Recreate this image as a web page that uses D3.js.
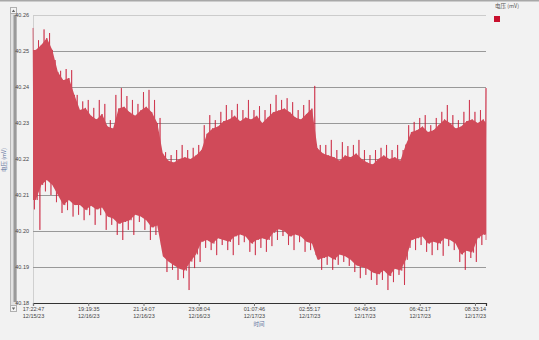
<!DOCTYPE html>
<html><head><meta charset="utf-8">
<script src="https://cdn.jsdelivr.net/npm/d3@7"></script>
<style>html,body{margin:0;padding:0;background:#f2f2f2;}svg{display:block;}</style>
</head><body>
<svg id="c" width="539" height="340"></svg>
<script>
const seriesName = "电压 (mV)";
const xTitle = "时间";
const yTicks = [40.18, 40.19, 40.20, 40.21, 40.22, 40.23, 40.24, 40.25, 40.26];
const tickTimes = ["17:22:47","19:19:35","21:14:07","23:08:04","01:07:46","02:55:17","04:49:53","06:42:17","08:33:14"];
const tickDates = ["12/15/23","12/16/23","12/16/23","12/16/23","12/17/23","12/17/23","12/17/23","12/17/23","12/17/23"];
const tickIndex = [0,10,20,30,40,50,60,70,80];
// peak readings (upper swing) per sample
const upper = [40.2564,40.2530,40.2560,40.2550,40.2475,40.2445,40.2450,40.2447,40.2378,40.2360,
40.2364,40.2342,40.2364,40.2353,40.2308,40.2378,40.2397,40.2375,40.2364,40.2353,
40.2386,40.2392,40.2364,40.2314,40.2219,40.2211,40.2225,40.2239,40.2225,40.2231,
40.2239,40.2294,40.2322,40.2308,40.2331,40.2350,40.2336,40.2353,40.2336,40.2364,
40.2336,40.2347,40.2336,40.2353,40.2378,40.2364,40.2369,40.2358,40.2336,40.2350,
40.2364,40.2403,40.2239,40.2239,40.2253,40.2225,40.2247,40.2236,40.2239,40.2253,
40.2225,40.2211,40.2225,40.2231,40.2239,40.2225,40.2239,40.2225,40.2294,40.2303,
40.2314,40.2322,40.2294,40.2314,40.2331,40.2350,40.2322,40.2308,40.2331,40.2364,
40.2331,40.2336,40.2397];
// trough readings (lower swing) per sample
const lower = [40.2060,40.2003,40.2110,40.2100,40.2080,40.2050,40.2058,40.2040,40.2045,40.2030,
40.2044,40.2017,40.2044,40.2003,40.2017,40.1989,40.1975,40.2003,40.1989,40.2025,
40.2003,40.1975,40.1989,40.1961,40.1886,40.1892,40.1864,40.1869,40.1836,40.1897,
40.1914,40.1953,40.1947,40.1933,40.1961,40.1947,40.1933,40.1961,40.1969,40.1942,
40.1933,40.1953,40.1942,40.1958,40.1975,40.1986,40.1961,40.1947,40.1969,40.1942,
40.1947,40.1933,40.1892,40.1906,40.1892,40.1906,40.1914,40.1903,40.1886,40.1869,
40.1878,40.1864,40.1850,40.1864,40.1836,40.1858,40.1878,40.1850,40.1953,40.1947,
40.1961,40.1942,40.1933,40.1947,40.1931,40.1958,40.1947,40.1914,40.1892,40.1925,
40.1914,40.1961,40.1975];
// intermediate upper swings (between samples)
const upperMid = [40.2503,40.2517,40.2536,40.2503,40.2442,40.2419,40.2425,40.2378,40.2336,40.2342,
40.2320,40.2310,40.2325,40.2290,40.2285,40.2340,40.2345,40.2330,40.2320,40.2335,
40.2345,40.2330,40.2300,40.2215,40.2195,40.2190,40.2200,40.2205,40.2200,40.2210,
40.2225,40.2270,40.2285,40.2290,40.2305,40.2310,40.2320,40.2305,40.2315,40.2310,
40.2320,40.2300,40.2315,40.2330,40.2335,40.2340,40.2330,40.2315,40.2310,40.2325,
40.2340,40.2230,40.2215,40.2210,40.2205,40.2195,40.2210,40.2205,40.2215,40.2200,
40.2190,40.2185,40.2200,40.2210,40.2200,40.2205,40.2195,40.2240,40.2275,40.2280,
40.2290,40.2275,40.2280,40.2295,40.2310,40.2300,40.2285,40.2290,40.2305,40.2310,
40.2300,40.2310,40.2300];
// intermediate lower swings (between samples)
const lowerMid = [40.2086,40.2128,40.2142,40.2128,40.2100,40.2072,40.2086,40.2072,40.2072,40.2058,
40.2070,40.2060,40.2065,40.2040,40.2035,40.2020,40.2025,40.2030,40.2045,40.2040,
40.2030,40.2010,40.2015,40.1930,40.1915,40.1905,40.1895,40.1890,40.1915,40.1935,
40.1970,40.1975,40.1965,40.1980,40.1975,40.1970,40.1985,40.1990,40.1985,40.1965,
40.1975,40.1980,40.1975,40.1995,40.2005,40.2000,40.1985,40.1990,40.1985,40.1970,
40.1965,40.1920,40.1925,40.1930,40.1920,40.1935,40.1930,40.1920,40.1905,40.1900,
40.1895,40.1885,40.1880,40.1890,40.1875,40.1895,40.1890,40.1920,40.1975,40.1980,
40.1985,40.1965,40.1970,40.1965,40.1980,40.1975,40.1965,40.1935,40.1945,40.1940,
40.1980,40.1990,40.1990];

const svg = d3.select("#c");
const font = "'Liberation Sans', Arial, sans-serif";
const L = 33, R = 486, T = 15, B = 303;
const n = upper.length;
const x = d3.scaleLinear().domain([0, n - 1]).range([L, R]);
const y = d3.scaleLinear().domain([40.18, 40.26]).range([B, T]);

svg.append("rect").attr("width",539).attr("height",340).attr("fill","#f2f2f2");
svg.append("line").attr("x1",0).attr("x2",539).attr("y1",0.5).attr("y2",0.5).attr("stroke","#a8a8a8").attr("stroke-width",2);

// scrollbar
const sb = svg.append("g");
sb.append("rect").attr("x",10.5).attr("y",7.5).attr("width",6).attr("height",304).attr("fill","#e2e2e2").attr("stroke","#b8b8b8");
sb.append("rect").attr("x",13.5).attr("y",15).attr("width",2.5).attr("height",287).attr("fill","#9a9a9a");
sb.append("rect").attr("x",10.5).attr("y",7.5).attr("width",6).attr("height",6).attr("fill","#f4f4f4").attr("stroke","#b0b0b0");
sb.append("rect").attr("x",10.5).attr("y",305.5).attr("width",6).attr("height",6).attr("fill","#f4f4f4").attr("stroke","#b0b0b0");
sb.append("path").attr("d","M11.8,12 L13.5,9.5 L15.2,12Z").attr("fill","#666");
sb.append("path").attr("d","M11.8,307.5 L13.5,310 L15.2,307.5Z").attr("fill","#666");

// grid
const yAxis = d3.axisLeft(y).tickValues(yTicks).tickSize(-(R - L)).tickPadding(4).tickFormat(d3.format(".2f"));
const gy = svg.append("g").attr("transform",`translate(${L},0)`).call(yAxis);
gy.select(".domain").attr("stroke","#d0d0d0");
gy.selectAll(".tick line").attr("stroke",d=> d===40.26 ? "#cccccc" : "#999999").attr("stroke-width",1);
gy.selectAll(".tick text").attr("font-family",font).attr("font-size",5.5).attr("fill","#444");

// oscillating trace (spikes)
const trace = [];
for (let i = 0; i < n; i++) {
  trace.push([i, upper[i]]);
  if (i < n - 1) {
    trace.push([i + 0.25, lower[i]]);
    trace.push([i + 0.5, upperMid[i]]);
    trace.push([i + 0.75, lowerMid[i]]);
  } else {
    trace.push([i, lower[i]]);
  }
}
svg.append("path").datum(trace)
  .attr("d", d3.line().x(d=>x(d[0])).y(d=>y(d[1])))
  .attr("fill","none").attr("stroke","#c8102e").attr("stroke-width",0.6);

// solid band of the dense signal, drawn over the trace
const band = [];
band.push({t:0, hi:upperMid[0], lo:lowerMid[0]});
for (let i = 0; i < n - 1; i++) band.push({t:i + 0.5, hi:upperMid[i], lo:lowerMid[i]});
band.push({t:n - 1, hi:upperMid[n - 1], lo:lowerMid[n - 1]});
svg.append("path").datum(band)
  .attr("d", d3.area().x(d=>x(d.t)).y0(d=>y(d.lo)).y1(d=>y(d.hi)))
  .attr("fill","#d04a59");

// x axis
const xAxis = d3.axisBottom(x).tickValues(tickIndex).tickSize(3).tickFormat("");
const gx = svg.append("g").attr("transform",`translate(0,${B})`).call(xAxis);
gx.select(".domain").attr("stroke","#333").attr("stroke-width",1.2);
gx.selectAll(".tick line").attr("stroke","#777");
gx.selectAll(".tick").each(function(d,i){
  const t = d3.select(this).append("text").attr("font-family",font).attr("font-size",5.5).attr("fill","#444").attr("text-anchor","middle");
  t.append("tspan").attr("x",0).attr("y",8).text(tickTimes[i]);
  t.append("tspan").attr("x",0).attr("y",14.5).text(tickDates[i]);
});

svg.append("text").attr("x",259).attr("y",326).attr("text-anchor","middle").attr("font-family","'Noto Sans CJK SC', sans-serif").attr("font-size",5.5).attr("fill","#5a6f9a").text(xTitle);
svg.append("text").attr("transform","translate(6,160) rotate(-90)").attr("text-anchor","middle").attr("font-family","'Noto Sans CJK SC', sans-serif").attr("font-size",5.5).attr("fill","#5a6f9a").text(seriesName);

// legend
svg.append("text").attr("x",495).attr("y",8).attr("font-family","'Noto Sans CJK SC', sans-serif").attr("font-size",5.5).attr("fill","#555").text(seriesName);
svg.append("rect").attr("x",494).attr("y",16).attr("width",6).attr("height",6).attr("fill","#c8102e");
</script>
</body></html>
